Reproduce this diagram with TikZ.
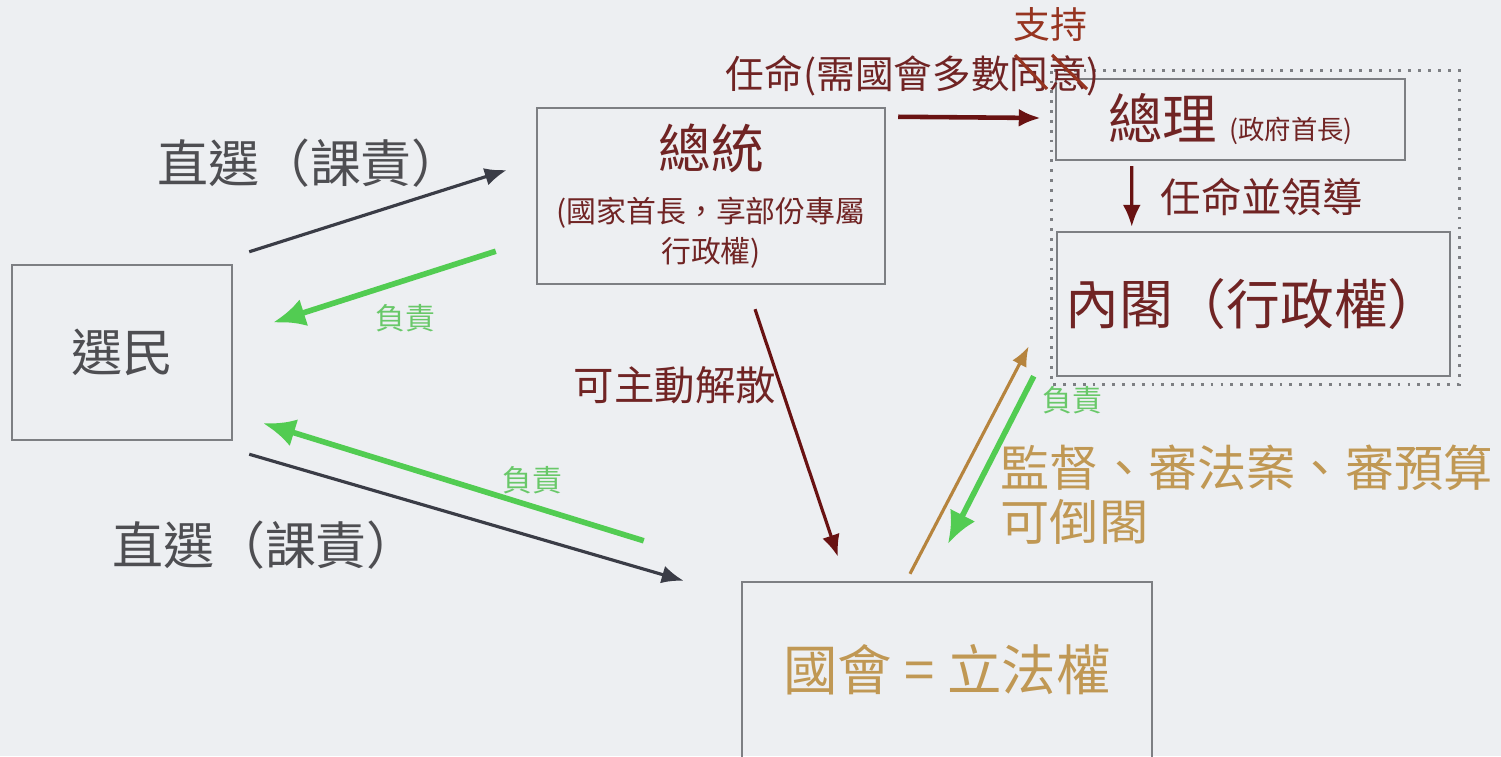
\documentclass[tikz,border=0pt]{standalone}
\usepackage{fontspec}
\setmainfont{Noto Sans CJK TC}
\usepackage{tikz}
\usetikzlibrary{arrows, arrows.meta, positioning, calc}
\definecolor{bgcol}{RGB}{237,239,242}
\definecolor{boxgray}{RGB}{125,127,131}
\definecolor{txtgray}{RGB}{78,78,82}
\definecolor{arrgray}{RGB}{58,60,70}
\definecolor{darkred}{RGB}{112,36,36}
\definecolor{arrred}{RGB}{105,18,18}
\definecolor{supred}{RGB}{150,52,32}
\definecolor{grn}{RGB}{82,204,82}
\definecolor{grntxt}{RGB}{105,200,105}
\definecolor{tan}{RGB}{192,152,84}
\definecolor{arrtan}{RGB}{182,132,62}
\tikzstyle{box} = [rectangle, draw=boxgray, line width=0.7pt, inner sep=0pt]
\tikzstyle{big} = [font=\fontsize{14.5}{17}\selectfont]
\tikzstyle{mid} = [font=\fontsize{11.5}{14}\selectfont]
\tikzstyle{tiny} = [font=\fontsize{8.5}{10}\selectfont]
\tikzstyle{darrow} = [-{Latex[length=2.2mm, width=1.8mm]}, line width=0.9pt, draw=arrgray]
\tikzstyle{rarrow} = [-{Latex[length=2.2mm, width=1.8mm]}, line width=0.9pt, draw=arrred]
\tikzstyle{garrow} = [-{Latex[length=3.2mm, width=2.8mm]}, line width=1.6pt, draw=grn]
\tikzstyle{tarrow} = [-{Latex[length=2.0mm, width=1.6mm]}, line width=0.9pt, draw=arrtan]

\begin{document}
\begin{tikzpicture}
        \useasboundingbox (0,0) rectangle (15.01,-7.56);
        \clip (0,0) rectangle (15.01,-7.56);
        \fill[bgcol] (0,0) rectangle (15.01,-7.56);

        % Voters
        \node[box, text=txtgray, minimum width=22mm, minimum height=17.5mm, font=\fontsize{14.5}{17}\selectfont] (voters) at (1.22,-3.525) {選民};

        % President
        \node[box, text=darkred, minimum width=34.8mm, minimum height=17.6mm, align=center, font=\fontsize{8.5}{11.4}\selectfont] (president) at (7.11,-1.96) {{\fontsize{15}{18}\selectfont 總統}\\[4pt](國家首長，享部份專屬\\行政權)};

        % Premier and cabinet
        \node[box, text=darkred, minimum width=34.9mm, minimum height=8.1mm, font=\fontsize{15.5}{18}\selectfont] (premier) at (12.305,-1.195) {總理 {\fontsize{7.5}{9}\selectfont (政府首長)}};
        \node[box, text=darkred, minimum width=39.3mm, minimum height=14.4mm, font=\fontsize{15.3}{18}\selectfont] (cabinet) at (12.535,-3.04) {內閣（行政權）};
        \draw[boxgray, line width=0.8pt, dotted] ($(premier.north west)+(-0.03,0.07)$) rectangle ($(cabinet.south east)+(0.08,-0.07)$);

        % Parliament
        \node[box, text=tan, minimum width=41mm, minimum height=17.6mm, font=\fontsize{15.5}{18}\selectfont] (parliament) at (9.47,-6.70) {國會 = 立法權};

        % Voters <-> president
        \draw[darrow] ($(voters.north east)+(0.16,0.12)$) -- ($(president.west)+(-0.29,0.26)$);
        \node[big, text=txtgray] (vote_top_lbl) at (3.10,-1.63) {直選（課責）};
        \draw[garrow] ($(president.south west)+(-0.40,0.34)$) -- ($(voters.east)+(0.40,0.30)$);
        \node[tiny, text=grntxt] (resp_pres_lbl) at (4.05,-3.18) {負責};

        % Voters <-> parliament
        \draw[garrow] ($(parliament.north west)+(-0.97,0.40)$) -- ($(voters.south east)+(0.30,0.18)$);
        \node[tiny, text=grntxt] (resp_parl_lbl) at (5.32,-4.80) {負責};
        \draw[darrow] ($(voters.south east)+(0.16,-0.13)$) -- ($(parliament.north west)+(-0.57,0)$);
        \node[big, text=txtgray] (vote_bot_lbl) at (2.65,-5.45) {直選（課責）};

        % Dissolve
        \draw[rarrow] ($(president.south)+(0.44,-0.24)$) -- ($(parliament.north)+(-1.09,0.24)$);
        \node[mid, text=darkred] (dissolve_lbl) at (6.75,-3.85) {可主動解散};

        % Appoint premier
        \draw[rarrow, line width=1.3pt] ($(president.north east)+(0.12,-0.10)$) -- ($(premier.west)+(-0.14,0.015)$);
        \node[text=darkred, font=\fontsize{11}{13}\selectfont] (appoint_lbl) at (9.13,-0.76) {任命(需國會多數同意)};
        \draw[supred, line width=0.9pt] ($(appoint_lbl.center)+(1.02,0.21)$) -- ++(0.32,-0.34);
        \draw[supred, line width=0.9pt] ($(appoint_lbl.center)+(1.39,0.21)$) -- ++(0.35,-0.34);
        \node[font=\fontsize{10.5}{12}\selectfont, text=supred] (support_lbl) at (10.50,-0.25) {支持};

        % Premier -> cabinet
        \draw[rarrow] ($(premier.south west)+(0.77,-0.05)$) -- ($(cabinet.north west)+(0.76,0.04)$);
        \node[mid, text=darkred, anchor=west, inner sep=0pt] (lead_lbl) at (11.60,-1.97) {任命並領導};

        % Parliament <-> cabinet
        \draw[tarrow] ($(parliament.north)+(-0.37,0.07)$) -- ($(cabinet.south west)+(-0.27,0.31)$);
        \draw[garrow] ($(cabinet.south west)+(-0.22,0.01)$) -- ($(parliament.north)+(0.01,0.37)$);
        \node[tiny, text=grntxt] (resp_cab_lbl) at (10.72,-4.00) {負責};
        \node[text=tan, anchor=west, inner sep=0pt, align=left, font=\fontsize{14}{15.4}\selectfont] (oversee_lbl) at (10.00,-4.95) {監督、審法案、審預算\\可倒閣};
    \end{tikzpicture}
\end{document}
